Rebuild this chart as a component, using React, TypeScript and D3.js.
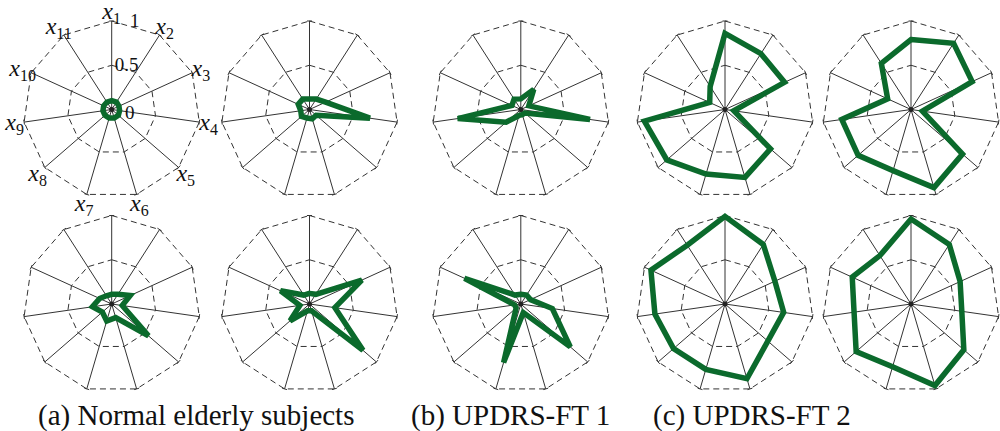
// Radar charts: normalized features x1..x11 for three subject groups
import * as d3 from "d3";

const axes = ["1", "2", "3", "4", "5", "6", "7", "8", "9", "10", "11"];
const ringLevels = [0.5, 1];
const tickLabels = [
  { v: 0, label: "0" },
  { v: 0.5, label: "0.5" },
  { v: 1, label: "1" },
];
const captions = [
  { text: "(a) Normal elderly subjects", x: 38 },
  { text: "(b) UPDRS-FT 1", x: 411 },
  { text: "(c) UPDRS-FT 2", x: 653 },
];

// one array per panel, in order x1..x11
const normalA1 = [0.1, 0.1, 0.09, 0.09, 0.1, 0.1, 0.1, 0.1, 0.1, 0.1, 0.1];
const normalA2 = [0.12, 0.14, 0.2, 0.69, 0.1, 0.11, 0.1, 0.12, 0.1, 0.14, 0.14];
const normalA3 = [0.11, 0.13, 0.23, 0.12, 0.55, 0.16, 0.2, 0.14, 0.22, 0.15, 0.11];
const normalA4 = [0.12, 0.13, 0.65, 0.29, 0.8, 0.08, 0.08, 0.29, 0.11, 0.36, 0.12];
const ft1B1 = [0.12, 0.27, 0.1, 0.79, 0.06, 0.06, 0.07, 0.22, 0.72, 0.11, 0.14];
const ft1B2 = [0.11, 0.12, 0.12, 0.36, 0.74, 0.1, 0.69, 0.07, 0.07, 0.7, 0.12];
const ft2C1 = [0.86, 0.75, 0.74, 0.1, 0.68, 0.8, 0.76, 0.87, 0.92, 0.19, 0.31];
const ft2C2 = [0.79, 0.89, 0.76, 0.13, 0.77, 0.92, 0.72, 0.79, 0.79, 0.29, 0.62];
const ft2C3 = [0.99, 0.8, 0.62, 0.67, 0.64, 0.88, 0.77, 0.77, 0.8, 0.92, 0.79];
const ft2C4 = [0.96, 0.8, 0.61, 0.58, 0.79, 0.96, 0.74, 0.82, 0.65, 0.73, 0.65];

const panels = [
  { values: normalA1, col: 0, row: 0, labels: true },
  { values: normalA2, col: 1, row: 0 },
  { values: ft1B1, col: 2, row: 0 },
  { values: ft2C1, col: 3, row: 0 },
  { values: ft2C2, col: 4, row: 0 },
  { values: normalA3, col: 0, row: 1 },
  { values: normalA4, col: 1, row: 1 },
  { values: ft1B2, col: 2, row: 1 },
  { values: ft2C3, col: 3, row: 1 },
  { values: ft2C4, col: 4, row: 1 },
];

const W = 1000;
const H = 431;
const colX = [111.7, 309.5, 520.8, 725, 911];
const rowY = [109.5, 304];
const R = 88.5;
const GREEN = "#0b6a2c";
const GRID = "#333";
const SERIF = "'Liberation Serif', 'DejaVu Serif', 'Times New Roman', Times, serif";

const r = d3.scaleLinear().domain([0, 1]).range([0, R]);
const angle = d3
  .scalePoint<string>()
  .domain(axes)
  .range([0, 2 * Math.PI - (2 * Math.PI) / axes.length]);

const radial = d3
  .lineRadial<number>()
  .angle((_, i) => angle(axes[i]) ?? 0)
  .radius((d) => r(d))
  .curve(d3.curveLinearClosed);

const pt = (a: number, rad: number) => [Math.sin(a) * rad, -Math.cos(a) * rad];

function Radar({ values, labels }: { values: number[]; labels?: boolean }) {
  return (
    <g>
      {ringLevels.map((lv) => (
        <path
          key={lv}
          d={radial(axes.map(() => lv)) || ""}
          fill="none"
          stroke={GRID}
          strokeWidth={1}
          strokeDasharray="6,4"
        />
      ))}
      {axes.map((k) => {
        const a = angle(k) ?? 0;
        const [x2, y2] = pt(a, R);
        const [tx, ty] = pt(a + Math.PI / 2, 2.5);
        return (
          <g key={k}>
            <line x1={0} y1={0} x2={x2} y2={y2} stroke={GRID} strokeWidth={1} />
            <line x1={x2 - tx} y1={y2 - ty} x2={x2 + tx} y2={y2 + ty} stroke={GRID} strokeWidth={1} />
          </g>
        );
      })}
      <path
        d={radial(values) || ""}
        fill="none"
        stroke={GREEN}
        strokeWidth={5.5}
        strokeLinejoin="miter"
        strokeMiterlimit={3}
      />
      <circle r={2.5} fill="#222" />
      {labels &&
        axes.map((k) => {
          const [lx, ly] = pt(angle(k) ?? 0, 98);
          return (
            <text
              key={k}
              x={lx}
              y={ly + 7}
              textAnchor="middle"
              fontFamily={SERIF}
              fill="#111"
            >
              <tspan fontStyle="italic" fontSize={24}>x</tspan>
              <tspan fontSize={16} dy={5}>{k}</tspan>
            </text>
          );
        })}
      {labels &&
        tickLabels.map((t) => (
          <text
            key={t.label}
            x={t.v === 1 ? 23 : t.v === 0 ? 18 : 15}
            y={-r(t.v) + (t.v === 0 ? 9 : 6)}
            textAnchor="middle"
            fontFamily={SERIF}
            fontSize={19}
            fill="#111"
          >
            {t.label}
          </text>
        ))}
    </g>
  );
}

export default function App() {
  return (
    <svg
      width={W}
      height={H}
      fontFamily={SERIF}
      style={{ position: "absolute", left: 0, top: 0, background: "#fff" }}
    >
      {panels.map((p, i) => (
        <g key={i} transform={`translate(${colX[p.col]},${rowY[p.row]})`}>
          <Radar values={p.values} labels={p.labels} />
        </g>
      ))}
      {captions.map((c) => (
        <text key={c.text} x={c.x} y={425} fontFamily={SERIF} fontSize={29} fill="#111">
          {c.text}
        </text>
      ))}
    </svg>
  );
}
